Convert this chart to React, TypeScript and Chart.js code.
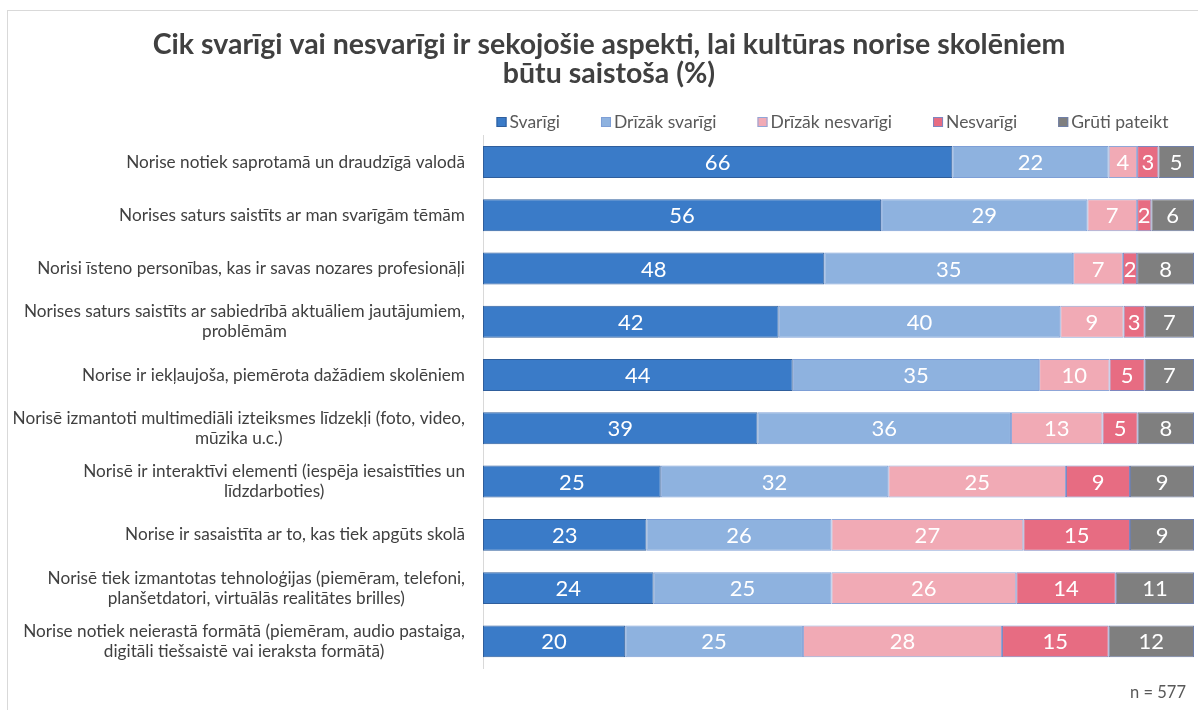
import React, { useEffect, useRef } from "react";
import { Chart, registerables } from "chart.js";
Chart.register(...registerables);

const titleLines = [
  "Cik svarīgi vai nesvarīgi ir sekojošie aspekti, lai kultūras norise skolēniem",
  "būtu saistoša (%)",
];
const categories: string[][] = [
  ["Norise notiek saprotamā un draudzīgā valodā"],
  ["Norises saturs saistīts ar man svarīgām tēmām"],
  ["Norisi īsteno personības, kas ir savas nozares profesionāļi"],
  ["Norises saturs saistīts ar sabiedrībā aktuāliem jautājumiem,", "problēmām"],
  ["Norise ir iekļaujoša, piemērota dažādiem skolēniem"],
  ["Norisē izmantoti multimediāli izteiksmes līdzekļi (foto, video,", "mūzika u.c.)"],
  ["Norisē ir interaktīvi elementi (iespēja iesaistīties un", "līdzdarboties)"],
  ["Norise ir sasaistīta ar to, kas tiek apgūts skolā"],
  ["Norisē tiek izmantotas tehnoloģijas (piemēram, telefoni,", "planšetdatori, virtuālās realitātes brilles)"],
  ["Norise notiek neierastā formātā (piemēram, audio pastaiga,", "digitāli tiešsaistē vai ieraksta formātā)"],
];
const seriesNames = ["Svarīgi", "Drīzāk svarīgi", "Drīzāk nesvarīgi", "Nesvarīgi", "Grūti pateikt"];
const svarigi = [66, 56, 48, 42, 44, 39, 25, 23, 24, 20];
const drizakSvarigi = [22, 29, 35, 40, 35, 36, 32, 26, 25, 25];
const drizakNesvarigi = [4, 7, 7, 9, 10, 13, 25, 27, 26, 28];
const nesvarigi = [3, 2, 2, 3, 5, 5, 9, 15, 14, 15];
const grutiPateikt = [5, 6, 8, 7, 7, 8, 9, 9, 11, 12];
const sampleNote = "n = 577";

const seriesColors = ["#3A7BC8", "#8EB2DF", "#F1AAB5", "#E76C82", "#7F7F7F"];
const seriesBorders = ["#2F5E9C", "#7E9FD6", "#8FA6D8", "#7E86C0", "#6F7FA8"];

const FONT = "Lato, 'Open Sans', sans-serif";

export default function App() {
  const ref = useRef<HTMLCanvasElement | null>(null);
  useEffect(() => {
    if (!ref.current) return;
    const allSeries = [svarigi, drizakSvarigi, drizakNesvarigi, nesvarigi, grutiPateikt];
    const totals = categories.map((_, i) => allSeries.reduce((s, arr) => s + arr[i], 0));

    const labelPlugin = {
      id: "segLabels",
      afterDatasetsDraw(chart: any) {
        const ctx = chart.ctx;
        ctx.save();
        ctx.font = `22px ${FONT}`;
        ctx.fillStyle = "#FFFFFF";
        ctx.textAlign = "center";
        ctx.textBaseline = "middle";
        chart.data.datasets.forEach((ds: any, di: number) => {
          const meta = chart.getDatasetMeta(di);
          meta.data.forEach((el: any, i: number) => {
            const cx = (el.x + el.base) / 2;
            ctx.fillText(String(ds.raw[i]), cx, el.y + 1);
          });
        });
        ctx.restore();
      },
    };

    const catLabelPlugin = {
      id: "catLabels",
      afterDraw(chart: any) {
        const ctx = chart.ctx;
        const yScale = chart.scales.y;
        const right = chart.chartArea.left - 18;
        ctx.save();
        ctx.font = `17.2px ${FONT}`;
        ctx.fillStyle = "#404040";
        ctx.textAlign = "center";
        ctx.textBaseline = "middle";
        const lh = 20;
        categories.forEach((lines, i) => {
          const y = yScale.getPixelForValue(i);
          const widest = Math.max(...lines.map((l) => ctx.measureText(l).width));
          const cx = right - widest / 2;
          const y0 = y - ((lines.length - 1) * lh) / 2;
          lines.forEach((l, k) => ctx.fillText(l, cx, y0 + k * lh));
        });
        // legend
        ctx.font = `17.5px ${FONT}`;
        ctx.textAlign = "left";
        const box = 10;
        const gapBoxText = 3;
        const gapItems = 41;
        const widths = seriesNames.map((n) => box + gapBoxText + ctx.measureText(n).width);
        const total = widths.reduce((a, b) => a + b, 0) + gapItems * (seriesNames.length - 1);
        const center = (chart.chartArea.left + chart.chartArea.right) / 2 - 6;
        let x = center - total / 2;
        const ly = 122;
        seriesNames.forEach((n, i) => {
          ctx.fillStyle = seriesColors[i];
          ctx.fillRect(x, ly - box / 2, box, box);
          ctx.strokeStyle = seriesBorders[i];
          ctx.lineWidth = 1;
          ctx.strokeRect(x + 0.5, ly - box / 2 + 0.5, box - 1, box - 1);
          ctx.fillStyle = "#595959";
          ctx.fillText(n, x + box + gapBoxText, ly);
          x += widths[i] + gapItems;
        });
        // sample note
        ctx.textAlign = "right";
        ctx.font = `16.5px ${FONT}`;
        ctx.fillText(sampleNote, 1186, 693);
        ctx.restore();
      },
    };

    const chart = new Chart(ref.current, {
      type: "bar",
      data: {
        labels: categories.map((c) => c.join(" ")),
        datasets: allSeries.map((arr, di) => ({
          label: seriesNames[di],
          data: arr.map((v, i) => (v / totals[i]) * 100),
          raw: arr,
          backgroundColor: seriesColors[di],
          borderColor: seriesBorders[di],
          borderWidth: 1,
          borderSkipped: false,
          categoryPercentage: 1,
          barPercentage: 0.6,
        })) as any,
      },
      options: {
        indexAxis: "y",
        responsive: false,
        animation: false,
        events: [],
        layout: { padding: { left: 24, right: 4, top: 0, bottom: 42 } },
        scales: {
          x: { display: false, stacked: true, min: 0, max: 100 },
          y: {
            stacked: true,
            grid: { display: false },
            border: { display: true, color: "#D9D9D9" },
            ticks: { display: false },
            afterFit: (s: any) => {
              s.width = 459;
            },
          },
        },
        plugins: {
          legend: { display: false },
          tooltip: { enabled: false },
          title: {
            display: true,
            text: titleLines,
            color: "#404040",
            font: { family: FONT, size: 28.5, weight: "bold", lineHeight: 0.99 },
            padding: { top: 31, bottom: 48 },
          },
        },
      } as any,
      plugins: [labelPlugin, catLabelPlugin],
    });
    return () => chart.destroy();
  }, []);

  return (
    <div style={{ position: "fixed", left: 0, top: 0, width: 1198, height: 710, overflow: "hidden", background: "#fff" }}>
      <canvas ref={ref} width={1198} height={710} style={{ position: "absolute", left: 0, top: 0 }} />
      <div
        style={{
          position: "absolute",
          left: 7,
          top: 10,
          width: 1190,
          height: 720,
          border: "1px solid #D9D9D9",
          pointerEvents: "none",
        }}
      />
    </div>
  );
}
